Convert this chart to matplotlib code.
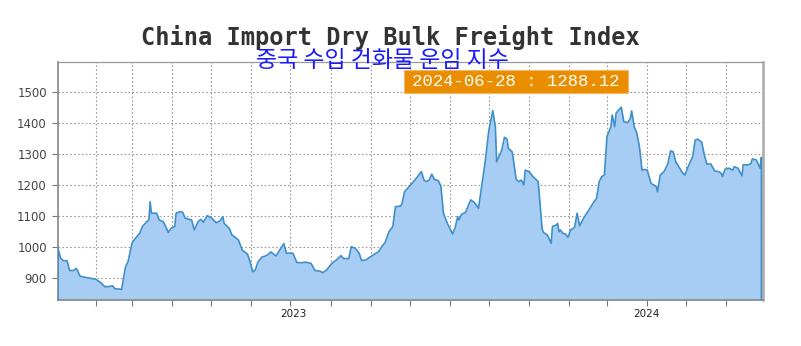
import matplotlib
matplotlib.use("Agg")
import matplotlib.pyplot as plt
import matplotlib.dates as mdates
from matplotlib.patches import Rectangle
import numpy as np
import pandas as pd

title = "China Import Dry Bulk Freight Index"
subtitle = "중국 수입 건화물 운임 지수"
last_label = "2024-06-28 : 1288.12"

dates = [
  "2023-01-03", "2023-01-05", "2023-01-07", "2023-01-10", "2023-01-12", "2023-01-15", "2023-01-17", "2023-01-18",
  "2023-01-20", "2023-01-24", "2023-01-28", "2023-02-01", "2023-02-05", "2023-02-08", "2023-02-11", "2023-02-14",
  "2023-02-16", "2023-02-20", "2023-02-21", "2023-02-24", "2023-02-26", "2023-03-01", "2023-03-03", "2023-03-07",
  "2023-03-09", "2023-03-12", "2023-03-14", "2023-03-15", "2023-03-16", "2023-03-20", "2023-03-22", "2023-03-25",
  "2023-03-27", "2023-03-29", "2023-03-31", "2023-04-03", "2023-04-04", "2023-04-07", "2023-04-09", "2023-04-11",
  "2023-04-16", "2023-04-18", "2023-04-21", "2023-04-23", "2023-04-25", "2023-04-28", "2023-05-01", "2023-05-05",
  "2023-05-08", "2023-05-10", "2023-05-11", "2023-05-15", "2023-05-17", "2023-05-22", "2023-05-25", "2023-05-29",
  "2023-05-31", "2023-06-02", "2023-06-04", "2023-06-06", "2023-06-09", "2023-06-13", "2023-06-16", "2023-06-20",
  "2023-06-26", "2023-06-28", "2023-07-03", "2023-07-06", "2023-07-09", "2023-07-13", "2023-07-17", "2023-07-20",
  "2023-07-24", "2023-07-26", "2023-07-29", "2023-08-02", "2023-08-06", "2023-08-09", "2023-08-11", "2023-08-15",
  "2023-08-17", "2023-08-20", "2023-08-23", "2023-08-25", "2023-08-28", "2023-09-01", "2023-09-05", "2023-09-07",
  "2023-09-10", "2023-09-12", "2023-09-15", "2023-09-18", "2023-09-20", "2023-09-24", "2023-09-25", "2023-09-27",
  "2023-10-01", "2023-10-05", "2023-10-10", "2023-10-12", "2023-10-14", "2023-10-16", "2023-10-18", "2023-10-20",
  "2023-10-23", "2023-10-25", "2023-10-27", "2023-10-30", "2023-11-01", "2023-11-03", "2023-11-05", "2023-11-07",
  "2023-11-08", "2023-11-10", "2023-11-13", "2023-11-17", "2023-11-20", "2023-11-23", "2023-11-25", "2023-11-28",
  "2023-12-01", "2023-12-03", "2023-12-04", "2023-12-06", "2023-12-07", "2023-12-11", "2023-12-13", "2023-12-15",
  "2023-12-16", "2023-12-19", "2023-12-22", "2023-12-24", "2023-12-26", "2023-12-28", "2023-12-29", "2024-01-01",
  "2024-01-04", "2024-01-08", "2024-01-11", "2024-01-12", "2024-01-15", "2024-01-18", "2024-01-19", "2024-01-22",
  "2024-01-23", "2024-01-24", "2024-01-25", "2024-01-27", "2024-01-29", "2024-01-31", "2024-02-02", "2024-02-05",
  "2024-02-07", "2024-02-09", "2024-02-12", "2024-02-16", "2024-02-20", "2024-02-22", "2024-02-24", "2024-02-26",
  "2024-02-28", "2024-03-01", "2024-03-04", "2024-03-05", "2024-03-07", "2024-03-08", "2024-03-10", "2024-03-12",
  "2024-03-14", "2024-03-17", "2024-03-19", "2024-03-20", "2024-03-22", "2024-03-24", "2024-03-26", "2024-03-28",
  "2024-03-30", "2024-04-01", "2024-04-04", "2024-04-08", "2024-04-09", "2024-04-11", "2024-04-14", "2024-04-17",
  "2024-04-19", "2024-04-21", "2024-04-23", "2024-04-26", "2024-04-28", "2024-04-30", "2024-05-02", "2024-05-06",
  "2024-05-08", "2024-05-10", "2024-05-13", "2024-05-15", "2024-05-17", "2024-05-20", "2024-05-23", "2024-05-26",
  "2024-05-28", "2024-05-29", "2024-05-31", "2024-06-03", "2024-06-06", "2024-06-07", "2024-06-10", "2024-06-13",
  "2024-06-14", "2024-06-18", "2024-06-20", "2024-06-21", "2024-06-24", "2024-06-25", "2024-06-27", "2024-06-28",
]

values = [
  995, 963, 955, 954, 923, 923, 930, 923,
  905, 901, 898, 895, 884, 871, 871, 874,
  864, 863, 862, 935, 952, 1011, 1024, 1043,
  1065, 1079, 1086, 1145, 1108, 1108, 1086, 1081,
  1065, 1046, 1059, 1065, 1108, 1113, 1111, 1092,
  1086, 1054, 1081, 1088, 1079, 1100, 1094, 1077,
  1084, 1097, 1075, 1059, 1038, 1022, 989, 976,
  952, 919, 925, 950, 966, 972, 983, 970,
  1010, 979, 979, 949, 948, 950, 946, 923,
  921, 916, 925, 946, 959, 971, 962, 961,
  1000, 995, 979, 955, 957, 968, 979, 984,
  1003, 1013, 1048, 1065, 1129, 1131, 1138, 1177,
  1196, 1215, 1242, 1215, 1210, 1215, 1234, 1217,
  1213, 1196, 1108, 1075, 1059, 1041, 1061, 1097,
  1086, 1105, 1110, 1151, 1142, 1124, 1183, 1269,
  1376, 1419, 1439, 1387, 1274, 1312, 1353, 1347,
  1317, 1306, 1218, 1210, 1215, 1199, 1247, 1242,
  1226, 1210, 1059, 1046, 1038, 1011, 1065, 1070,
  1075, 1048, 1054, 1043, 1041, 1030, 1054, 1062,
  1108, 1067, 1092, 1118, 1145, 1156, 1210, 1226,
  1231, 1355, 1387, 1425, 1387, 1430, 1441, 1450,
  1403, 1400, 1414, 1438, 1387, 1366, 1323, 1247,
  1249, 1247, 1204, 1194, 1177, 1231, 1242, 1269,
  1309, 1306, 1274, 1253, 1240, 1231, 1253, 1290,
  1344, 1347, 1337, 1296, 1266, 1267, 1244, 1242,
  1237, 1226, 1250, 1253, 1247, 1258, 1253, 1229,
  1264, 1264, 1269, 1283, 1280, 1272, 1253, 1288.12,
]

yticks = [900, 1000, 1100, 1200, 1300, 1400, 1500]

FILL = '#a8cdf5'
LINE = '#3f8fc8'
GRID = '#999999'

def main():
  x = pd.to_datetime(dates)
  y = np.array(values)

  fig = plt.figure(figsize=(8.01, 3.46), dpi=100)
  ax = fig.add_axes([0.0724, 0.133, 0.8802, 0.688])

  ymin, ymax = 828, 1596
  xmin = pd.Timestamp("2023-01-03 00:00")
  xmax = pd.Timestamp("2024-06-29 06:00")
  ax.set_xlim(xmin, xmax)
  ax.set_ylim(ymin, ymax)

  # area + outline, closed down to the axis at both ends
  ax.fill_between(x, y, ymin, color=FILL, linewidth=0, zorder=2)
  xl = [x[0]] + list(x) + [x[-1]]
  yl = [ymin] + list(y) + [ymin]
  ax.plot(xl, yl, color=LINE, linewidth=1.2, zorder=3)

  ax.set_axisbelow(True)
  ax.xaxis.set_major_locator(mdates.MonthLocator())
  ax.xaxis.set_major_formatter(plt.NullFormatter())
  ax.xaxis.set_minor_locator(mdates.YearLocator())
  ax.xaxis.set_minor_formatter(plt.NullFormatter())
  ax.set_yticks(yticks)
  ax.set_yticklabels([str(t) for t in yticks], fontsize=8.5, color='#444444')
  ax.grid(True, which='major', color=GRID, linestyle=(0, (1.5, 2)), linewidth=0.8)

  ax.tick_params(axis='y', direction='out', length=4, width=0.8, color='#777777', pad=4)
  ax.tick_params(axis='x', which='major', direction='out', length=4, width=0.8, color='#777777')
  ax.tick_params(axis='x', which='minor', direction='out', length=18, width=0.8, color='#bbbbbb')

  # year labels centred on the visible part of each year
  for yr in [2023, 2024]:
    a = max(xmin, pd.Timestamp(f"{yr}-01-01"))
    b = min(xmax, pd.Timestamp(f"{yr+1}-01-01"))
    mid = a + (b - a) / 2
    ax.text(mid, -0.057, str(yr), transform=ax.get_xaxis_transform(),
            ha='center', va='center', fontsize=7.5, color='#222222')

  for s in ['left', 'bottom']:
    ax.spines[s].set_color('#888888')
    ax.spines[s].set_linewidth(1.2)
  ax.spines['top'].set_color('#999999')
  ax.spines['top'].set_linewidth(0.9)
  ax.spines['right'].set_color('#aaaaaa')
  ax.spines['right'].set_linewidth(1.8)

  fig.text(0.487, 0.893, title, ha='center', va='center', fontsize=17,
           family='DejaVu Sans Mono', fontweight='bold', color='#333333')
  fig.text(0.478, 0.826, subtitle, ha='center', va='center', fontsize=16.5,
           family=['Noto Sans CJK KR', 'DejaVu Sans'], fontweight='light', color='#1a1aff', zorder=10)

  box = Rectangle((0.5044, 0.731), 0.2796, 0.067, transform=fig.transFigure,
                  facecolor='#ea8e00', edgecolor='#f3b766', linewidth=0.8, zorder=10)
  fig.patches.append(box)
  fig.text(0.644, 0.7645, last_label, ha='center', va='center', fontsize=12.5,
           family='Liberation Mono', color='white', zorder=11)

  plt.savefig("out.png", dpi=100)

if __name__ == "__main__":
  main()
